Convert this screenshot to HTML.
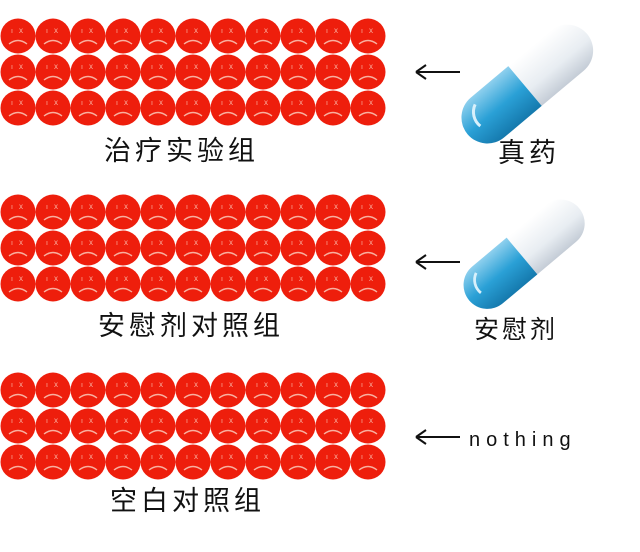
<!DOCTYPE html>
<html><head><meta charset="utf-8"><style>
body{margin:0;background:#fff;}
.t{font-family:"Liberation Sans","Noto Sans CJK SC",sans-serif;fill:#111;}
</style></head><body>
<svg width="640" height="547" viewBox="0 0 640 547" xmlns="http://www.w3.org/2000/svg">
<defs>
<g id="f">
<circle r="17.5" fill="#ee1e0c"/>
<text x="-7" y="-3" font-size="7" fill="#f8b0a0" font-family="Liberation Sans">ı</text>
<text x="1" y="-3" font-size="8" fill="#f8b0a0" font-family="Liberation Sans">x</text>
<path d="M-9 8 Q0 1 9 8" stroke="#f8b0a0" stroke-width="1.4" fill="none"/>
</g>
<linearGradient id="bl" x1="0" y1="0" x2="0" y2="1"><stop offset="0" stop-color="#8fd0ee"/><stop offset="0.5" stop-color="#2aa0d6"/><stop offset="1" stop-color="#1579ad"/></linearGradient>
<linearGradient id="wh" x1="0" y1="0" x2="0" y2="1"><stop offset="0" stop-color="#ffffff"/><stop offset="0.6" stop-color="#e8edf2"/><stop offset="1" stop-color="#c4ccd6"/></linearGradient>
<g id="cap">
<path d="M0 -26 H55 A26 26 0 0 1 55 26 H0 Z" fill="url(#wh)"/>
<path d="M0 -26 H-49 A26 26 0 0 0 -49 26 H0 Z" fill="url(#bl)"/>
<path d="M-50 -18 A18 18 0 0 0 -60 2" stroke="#d8f0fb" stroke-width="3" fill="none"/>
</g>
<g id="row">
<use href="#f" x="18"/><use href="#f" x="53"/><use href="#f" x="88"/><use href="#f" x="123"/><use href="#f" x="158"/><use href="#f" x="193"/><use href="#f" x="228"/><use href="#f" x="263"/><use href="#f" x="298"/><use href="#f" x="333"/><use href="#f" x="368"/>
</g>
</defs>
<use href="#row" y="36"/><use href="#row" y="72"/><use href="#row" y="108"/>
<use href="#row" y="212"/><use href="#row" y="248"/><use href="#row" y="284"/>
<use href="#row" y="390"/><use href="#row" y="426"/><use href="#row" y="462"/>
<text class="t" x="104" y="160" font-size="27" letter-spacing="4">治疗实验组</text>
<text class="t" x="98" y="335" font-size="27" letter-spacing="4">安慰剂对照组</text>
<text class="t" x="110" y="510" font-size="27" letter-spacing="4">空白对照组</text>
<g stroke="#111" stroke-width="2" fill="none">
<path d="M416 72 H460 M416 72 L426 65 M416 72 L426 79"/>
<path d="M416 262 H460 M416 262 L426 255 M416 262 L426 269"/>
<path d="M416 437 H460 M416 437 L426 430 M416 437 L426 444"/>
</g>
<use href="#cap" transform="translate(525,86) rotate(-40)"/>
<use href="#cap" transform="translate(522,256) rotate(-40) scale(0.92)"/>
<text class="t" x="498" y="162" font-size="27" letter-spacing="4">真药</text>
<text class="t" x="474" y="338" font-size="25" letter-spacing="3">安慰剂</text>
<text class="t" x="469" y="446" font-size="20" letter-spacing="6">nothing</text>
</svg>
</body></html>
